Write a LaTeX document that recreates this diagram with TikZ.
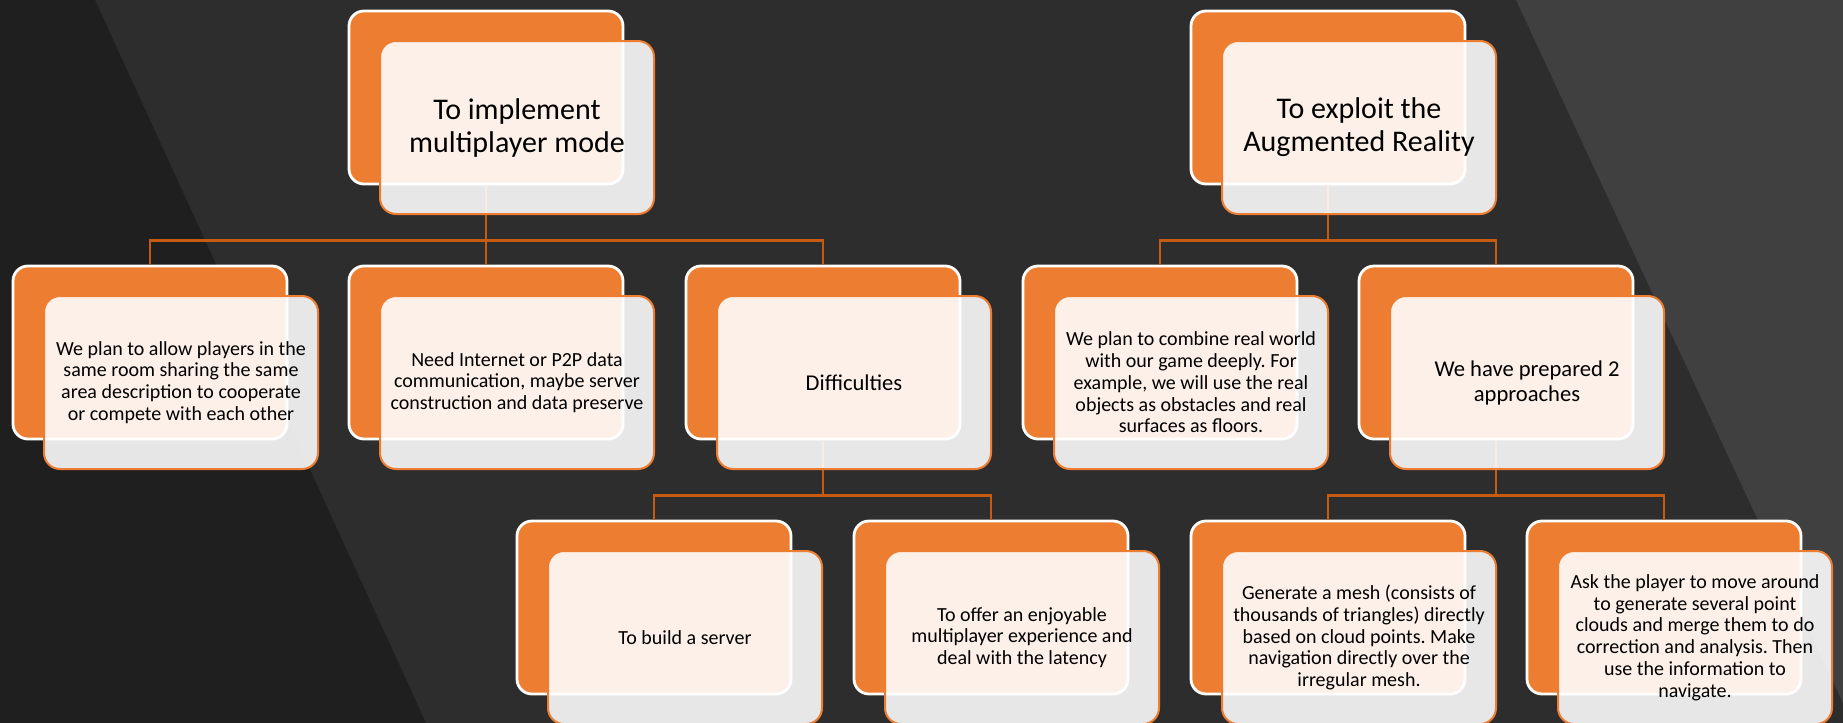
\documentclass[tikz,border=0pt]{standalone}
\usepackage{fontspec}
\setmainfont{Carlito}
\usepackage{tikz}
\usepackage{xcolor}
\frenchspacing
\definecolor{slide}{HTML}{2D2D2D}
\definecolor{slidedark}{HTML}{1F1F1F}
\definecolor{slidelight}{HTML}{404040}
\definecolor{accent}{HTML}{ED7D31}
\definecolor{linkcol}{HTML}{C55A11}
\tikzset{%
	backbox/.style={
		rectangle,
		rounded corners=7.5pt,
		draw=white,
		line width=1.4pt,
		fill=accent,
		minimum width=137pt,
		minimum height=86.5pt,
		inner sep=0pt
	},
	frontbox/.style={
		rectangle,
		rounded corners=8pt,
		draw=accent,
		line width=1pt,
		fill=white,
		fill opacity=0.89,
		text opacity=1,
		minimum width=137pt,
		minimum height=86.5pt,
		inner sep=2pt,
		align=center,
		text=black,
		font=\fontsize{10}{10.9}\selectfont
	},
	bigtext/.style={font=\fontsize{15}{16.5}\selectfont},
	midtext/.style={font=\fontsize{11.3}{12.5}\selectfont},
	link/.style={draw=linkcol, line width=1.2pt},
}

\begin{document}
\begin{tikzpicture}[x=0.5pt, y=-0.5pt]
			\useasboundingbox (0,0) rectangle (1843,723);
			
			% Draw the slide background
			\fill[slide] (0,0) rectangle (1843,723);
			\fill[slidedark] (0,0) -- (95,0) -- (426,723) -- (0,723) -- cycle;
			\fill[slidelight] (1516,0) -- (1843,0) -- (1843,703) -- cycle;
			
			% Draw the orange back boxes
			\node[backbox] (mult) at (486,97.5) {};
			\node[backbox] (augm) at (1328,97.5) {};
			
			\node[backbox] (plan) at (150,352.5) {};
			\node[backbox] (need) at (486,352.5) {};
			\node[backbox] (diff) at (823,352.5) {};
			\node[backbox] (comb) at (1160,352.5) {};
			\node[backbox] (appr) at (1496,352.5) {};
			
			\node[backbox] (serv) at (654,607.5) {};
			\node[backbox] (late) at (991,607.5) {};
			\node[backbox] (mesh) at (1328,607.5) {};
			\node[backbox] (clou) at (1664,607.5) {};
			
			% Draw links from parents to children
			\draw[link] (mult.south) -- ++(0,55) -| (plan.north);
			\draw[link] (mult.south) -- ++(0,55) -| (need.north);
			\draw[link] (mult.south) -- ++(0,55) -| (diff.north);
			
			\draw[link] (augm.south) -- ++(0,55) -| (comb.north);
			\draw[link] (augm.south) -- ++(0,55) -| (appr.north);
			
			\draw[link] (diff.south) -- ++(0,55) -| (serv.north);
			\draw[link] (diff.south) -- ++(0,55) -| (late.north);
			
			\draw[link] (appr.south) -- ++(0,55) -| (mesh.north);
			\draw[link] (appr.south) -- ++(0,55) -| (clou.north);
			
			% Draw the light front boxes with the texts
			\node[frontbox, bigtext] (multf) at (517,127.5) {To implement\\multiplayer mode};
			\node[frontbox, bigtext] (augmf) at (1359,127.5) {To exploit the\\Augmented Reality};
			
			\node[frontbox] (planf) at (181,382.5) {We plan to allow players in the\\same room sharing the same\\area description to cooperate\\or compete with each other};
			\node[frontbox] (needf) at (517,382.5) {Need Internet or P2P data\\communication, maybe server\\construction and data preserve};
			\node[frontbox, midtext] (difff) at (854,382.5) {Difficulties};
			\node[frontbox] (combf) at (1191,382.5) {We plan to combine real world\\with our game deeply. For\\example, we will use the real\\objects as obstacles and real\\surfaces as floors.};
			\node[frontbox, midtext] (apprf) at (1527,382.5) {We have prepared 2\\approaches};
			
			\node[frontbox] (servf) at (685,637.5) {To build a server};
			\node[frontbox] (latef) at (1022,637.5) {To offer an enjoyable\\multiplayer experience and\\deal with the latency};
			\node[frontbox] (meshf) at (1359,637.5) {Generate a mesh (consists of\\thousands of triangles) directly\\based on cloud points. Make\\navigation directly over the\\irregular mesh.};
			\node[frontbox] (clouf) at (1695,637.5) {Ask the player to move around\\to generate several point\\clouds and merge them to do\\correction and analysis. Then\\use the information to\\navigate.};
			
\end{tikzpicture}
\end{document}
